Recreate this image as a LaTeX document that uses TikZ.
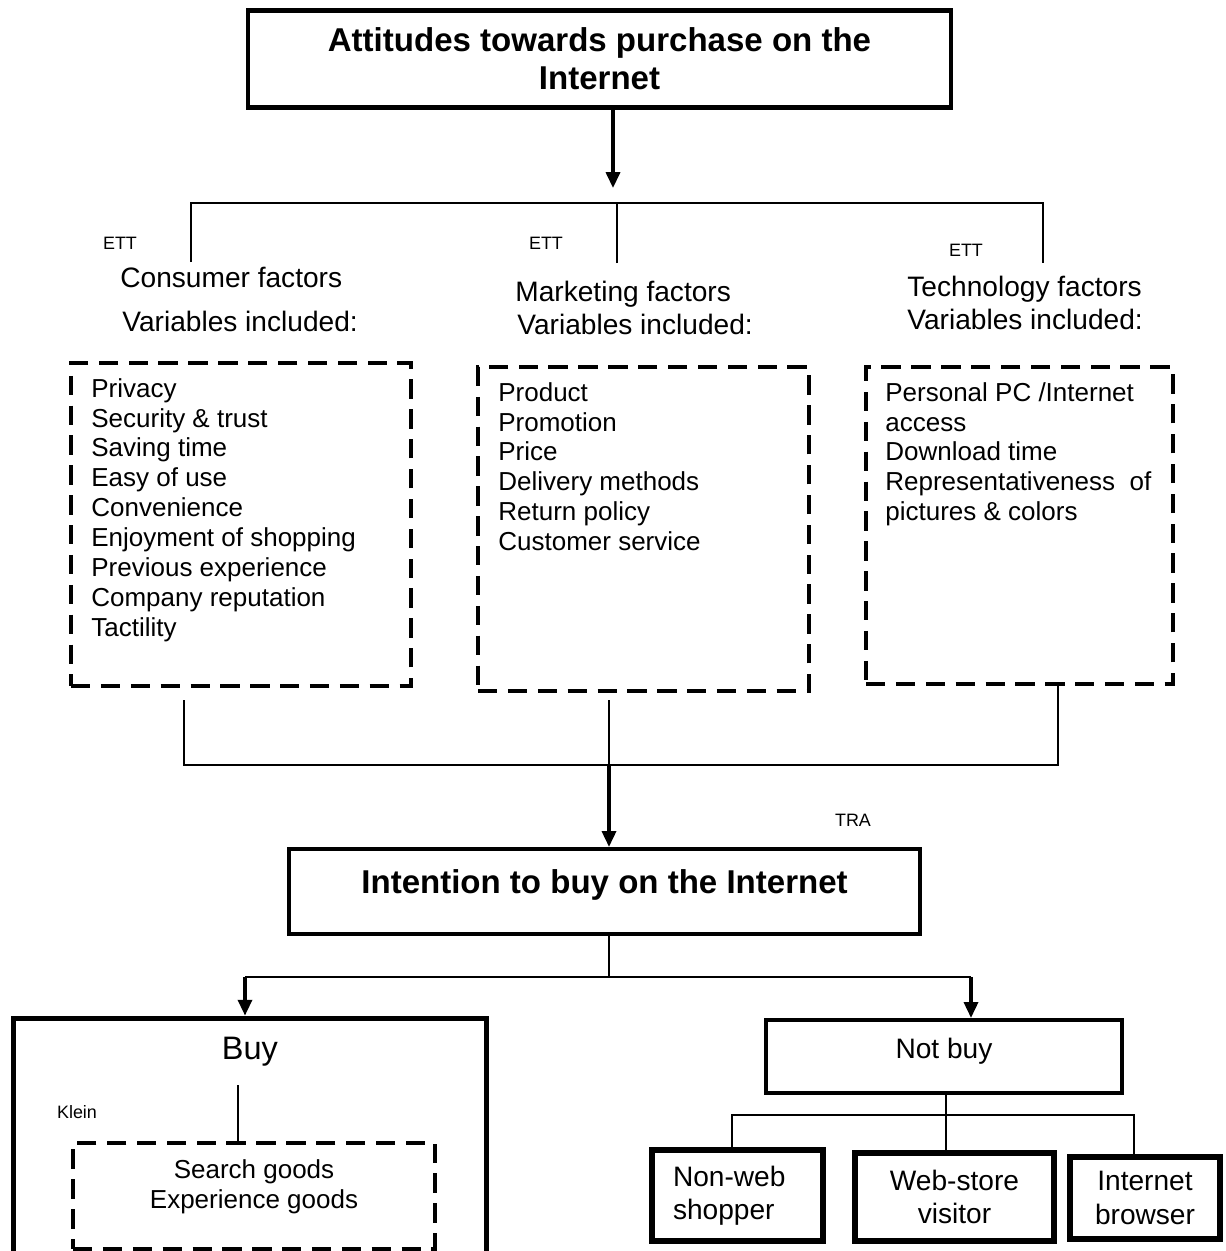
\documentclass[tikz,border=0pt]{standalone}
\usepackage{fontspec}
\setmainfont{Liberation Sans}
\usetikzlibrary{arrows.meta}
\begin{document}
\begin{tikzpicture}[x=0.02cm,y=-0.02cm,
    box/.style={shape=rectangle,draw=black,line width=2.4pt,inner sep=0pt},
    dashbox/.style={shape=rectangle,draw=black,line width=2.2pt,dash pattern=on 11pt off 6pt,inner sep=0pt},
    ref/.style={font=\fontsize{10.2}{12}\selectfont,inner sep=0pt},
    lbl/.style={font=\fontsize{16}{19}\selectfont,inner sep=0pt},
    lst/.style={font=\fontsize{14.8}{17}\selectfont,inner sep=0pt,align=left},
    head/.style={font=\fontsize{18.8}{21.6}\selectfont\bfseries,align=center},
    link/.style={draw=black,line width=0.8pt},
    arr/.style={draw=black,line width=1.8pt,-{Triangle[length=9pt,width=8pt]}}]
    \clip (0,0) rectangle (1226,1251);

    % top
    \node[box,head,minimum width=14.06cm,minimum height=1.94cm] (Att) at (599.5,59) {Attitudes towards purchase on the\\Internet};
    \coordinate (AttEnd) at (613,188);
    \coordinate (TopBar) at (617,203);
    \coordinate (C1) at (191,262);
    \coordinate (C2) at (617,263);
    \coordinate (C3) at (1043,263);

    % three factor groups
    \node[ref] (ETT1) at (120,243) {ETT};
    \node[ref] (ETT2) at (546,243) {ETT};
    \node[ref] (ETT3) at (966,250) {ETT};
    \node[lbl,anchor=west] (ConsHead) at (120,277) {Consumer factors};
    \node[lbl,anchor=west] (ConsVar) at (122,321) {Variables included:};
    \node[lbl,anchor=west] (MarkHead) at (515,294) {Marketing factors};
    \node[lbl,anchor=west] (MarkVar) at (517,324) {Variables included:};
    \node[lbl,anchor=west] (TechHead) at (907,289) {Technology factors};
    \node[lbl,anchor=west] (TechVar) at (907,319) {Variables included:};

    \node[dashbox,minimum width=6.8cm,minimum height=6.46cm] (Cons) at (241,524.5) {};
    \node[dashbox,minimum width=6.62cm,minimum height=6.48cm] (Mark) at (643.5,529) {};
    \node[dashbox,minimum width=6.14cm,minimum height=6.34cm] (Tech) at (1019.5,525.5) {};
    \node[lst,anchor=north west] (ConsList) at (91,378) {Privacy\\Security \& trust\\Saving time\\Easy of use\\Convenience\\Enjoyment of shopping\\Previous experience\\Company reputation\\Tactility};
    \node[lst,anchor=north west] (MarkList) at (498,382) {Product\\Promotion\\Price\\Delivery methods\\Return policy\\Customer service};
    \node[lst,anchor=north west] (TechList) at (885,382) {Personal PC /Internet\\access\\Download time\\Representativeness\ \ of\\pictures \& colors};

    \coordinate (L1) at (184,700);
    \coordinate (L2) at (609,700);
    \coordinate (L3) at (1058,683);
    \coordinate (MidBar) at (609,765);

    % intention
    \node[ref] (TRA) at (853,820) {TRA};
    \node[box,head,minimum width=12.62cm,minimum height=1.7cm] (Int) at (604.5,891.5) {\raisebox{0.4cm}{Intention to buy on the Internet}};
    \coordinate (Split) at (609,977);
    \coordinate (SplitL) at (245,977);
    \coordinate (SplitR) at (971,977);

    % buy
    \node[box,line width=2.8pt,minimum width=9.48cm,minimum height=5.64cm] (Buy) at (250,1159) {};
    \node[lbl,font=\fontsize{18.5}{21}\selectfont] (BuyText) at (250,1052) {Buy};
    \node[ref] (Klein) at (77,1112) {Klein};
    \coordinate (BuyStem) at (238,1085);
    \node[dashbox,minimum width=7.24cm,minimum height=2.12cm] (Goods) at (254,1196) {};
    \node[lst,align=center] (GoodsList) at (254,1187) {Search goods\\Experience goods};

    % not buy
    \node[box,lbl,minimum width=7.12cm,minimum height=1.46cm] (NotBuy) at (944,1056.5) {\raisebox{0.32cm}{Not buy}};
    \coordinate (NbStem) at (946,1115);
    \node[box,lbl,line width=3pt,align=left,text width=2.58cm,minimum width=3.42cm,minimum height=1.82cm] (NonWeb) at (737.5,1195.5) {Non-web\\shopper};
    \node[box,lbl,line width=3pt,align=center,minimum width=3.98cm,minimum height=1.76cm] (WebStore) at (954.5,1197) {Web-store\\visitor};
    \node[box,lbl,line width=3pt,align=center,minimum width=3.0cm,minimum height=1.64cm] (Browser) at (1145,1198) {Internet\\browser};

    % connectors
    \draw[arr] (Att.south -| AttEnd) -- (AttEnd);
    \draw[link] (C1) |- (TopBar) -| (C3);
    \draw[link] (C2) -- (TopBar);
    \draw[link] (L1) |- (MidBar);
    \draw[link] (L3) |- (MidBar);
    \draw[link] (L2) -- (MidBar);
    \draw[link,line width=1.4pt] (L1 |- MidBar) -- (L3 |- MidBar);
    \draw[arr] (MidBar) -- (Int.north -| MidBar);
    \draw[link] (Int.south -| Split) -- (Split);
    \draw[link] (SplitL) -- (SplitR);
    \draw[arr] (SplitL) -- (Buy.north -| SplitL);
    \draw[arr] (SplitR) -- (NotBuy.north -| SplitR);
    \draw[link] (BuyStem) -- (Goods.north -| BuyStem);
    \draw[link] (NotBuy.south -| NbStem) -- (WebStore.north -| NbStem);
    \draw[link] (NonWeb.north -| 732,0) |- (NbStem) -| (Browser.north -| 1134,0);
  \end{tikzpicture}
\end{document}
